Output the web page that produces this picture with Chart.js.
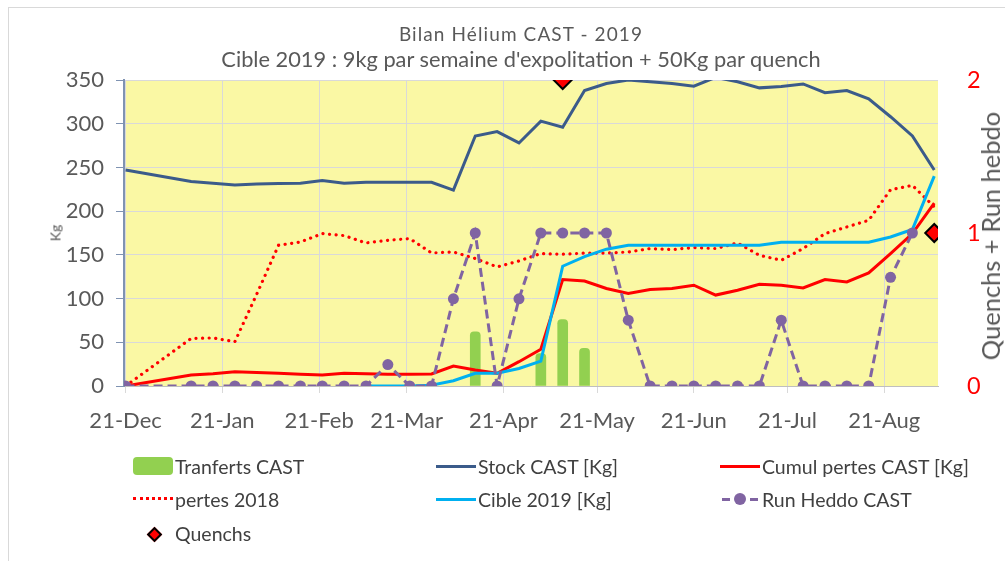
<!DOCTYPE html>
<html><head><meta charset="utf-8">
<script src="https://cdn.jsdelivr.net/npm/chart.js@4.4.1/dist/chart.umd.min.js"></script>
<style>
html,body{margin:0;padding:0;background:#fff;width:1005px;height:561px;overflow:hidden;font-family:Lato,"Open Sans",sans-serif;}
#wrap{position:relative;width:1005px;height:561px;}
#frame{position:absolute;left:8px;top:7px;width:997px;height:554px;border-top:1px solid #d9d9d9;border-left:1px solid #d9d9d9;box-sizing:border-box;}
#c{position:absolute;left:0;top:0;}
.t{position:absolute;white-space:nowrap;color:#595959;transform:translate(-50%,-50%);}
.rot{position:absolute;white-space:nowrap;color:#595959;transform:translate(-50%,-50%) rotate(-90deg);}
.lg{position:absolute;height:30px;display:flex;align-items:center;font-size:19.5px;color:#404040;white-space:nowrap;transform:translateY(-50%);}
.sw{position:relative;width:40px;height:20px;margin-right:2px;flex:none;}
</style>
</head><body>
<div id="wrap">
<div id="frame"></div>
<canvas id="c" width="1005" height="561"></canvas>
<div class="t" id="t1" style="left:521px;top:33px;font-size:19px;letter-spacing:1.1px;"></div>
<div class="t" id="t2" style="left:521px;top:58px;font-size:21.8px;"></div>
<div class="rot" id="ylab" style="left:55px;top:233px;font-size:14px;"></div>
<div class="rot" id="y1lab" style="left:990px;top:236px;font-size:25.5px;"></div>
<div id="legend"></div>
</div>
<script>
// ---- data ----
const titleText = 'Bilan Hélium CAST - 2019';
const subtitleText = "Cible 2019 : 9kg par semaine d'expolitation + 50Kg par quench";
const yTitle = 'Kg';
const y1Title = 'Quenchs + Run hebdo';
const seriesNames = ['Tranferts CAST','Stock CAST [Kg]','Cumul pertes CAST [Kg]','pertes 2018','Cible 2019 [Kg]','Run Heddo CAST','Quenchs'];

const weeks = ['2018-12-21','2019-01-11','2019-01-18','2019-01-25','2019-02-01','2019-02-08','2019-02-15','2019-02-22',
 '2019-03-01','2019-03-08','2019-03-15','2019-03-22','2019-03-29','2019-04-05','2019-04-12','2019-04-19','2019-04-26',
 '2019-05-03','2019-05-10','2019-05-17','2019-05-24','2019-05-31','2019-06-07','2019-06-14','2019-06-21','2019-06-28',
 '2019-07-05','2019-07-12','2019-07-19','2019-07-26','2019-08-02','2019-08-09','2019-08-16','2019-08-23','2019-08-30','2019-09-06'];

const transferts = [null,null,null,null,null,null,null,null,null,null,null,null,null,null,62,null,null,37,76,43,
 null,null,null,null,null,null,null,null,null,null,null,null,null,null,null,null];
const stock = [247,234,232,230,231,231.5,232,235,232,233,233,233,233,224,286,291,278,303,296,338,346,350,348,346,343,353,
 348,341,342.5,345.5,335.5,338,328.5,308,286,247];
const cumulPertes = [0,12.6,14,16.4,15.5,14.5,13.5,12.6,14.5,14,13.5,13.5,13.7,22.8,18.3,14.5,27.8,42,121.8,120,111.5,105.8,
 110.4,111.5,115.3,104,109.6,116.4,115.3,112.2,121.8,119.1,129.4,151.5,174.3,209.3];
const pertes2018 = [0,54.4,55,50.6,105,161,164.7,174.3,172,163.6,166.7,168.6,152.2,153.3,145.8,136.2,143,151.5,150.7,152,152,
 153.3,157.2,156,158.3,157.2,163.6,149.5,143.8,157.2,174.3,181.9,189.5,224.5,229.5,205];
const cible2019 = [null,null,null,null,null,null,null,null,null,0,0,0,1,6,14.5,14.5,20,28.5,137,148,156.5,161,161,161,161,161,
 161,161,164.5,164.5,164.5,164.5,164.5,170.5,179,240];
const runHeddo = [0,0,0,0,0,0,0,0,0,0,0.14,0,0,0.57,1,0,0.57,1,1,1,1,0.43,0,0,0,0,0,0,0.43,0,0,0,0,0.71,1,null];
const quenchs = [null,null,null,null,null,null,null,null,null,null,null,null,null,null,null,null,null,null,2,null,
 null,null,null,null,null,null,null,null,null,null,null,null,null,null,null,1];

const tickDates = ['2018-12-21','2019-01-21','2019-02-21','2019-03-21','2019-04-21','2019-05-21','2019-06-21','2019-07-21','2019-08-21'];
const tickLabels = ['21-Dec','21-Jan','21-Feb','21-Mar','21-Apr','21-May','21-Jun','21-Jul','21-Aug'];
const yTicks = [0,50,100,150,200,250,300,350];
const y1Ticks = [0,1,2];

// ---- helpers ----
const base = Date.UTC(2018,11,21);
const dayOf = s => (Date.parse(s + 'T00:00:00Z') - base) / 86400000;
const xs = weeks.map(dayOf);
const pts = arr => arr.map((v,i) => ({x: xs[i], y: v}));

const C = {
  bar:'#92D050', stock:'#3B5B8A', cumul:'#FF0000', p2018:'#FF0000', cible:'#00B0F0', run:'#8064A2', quench:'#FF0000'
};

document.getElementById('t1').textContent = titleText;
document.getElementById('t2').textContent = subtitleText;
document.getElementById('ylab').textContent = yTitle;
document.getElementById('y1lab').textContent = y1Title;

const plotBg = {
  id:'plotBg',
  beforeDraw(chart){
    const {ctx, chartArea:a} = chart;
    ctx.save(); ctx.fillStyle = '#FAF8A4';
    ctx.fillRect(a.left, a.top, a.right-a.left, a.bottom-a.top);
    ctx.restore();
  }
};

const font = {family:'Lato, "Open Sans", sans-serif'};

new Chart(document.getElementById('c'), {
  type:'line',
  data:{
    datasets:[
      {type:'bar', label:seriesNames[0], data:pts(transferts), backgroundColor:C.bar, barThickness:10,
       borderRadius:{topLeft:4,topRight:4}, borderSkipped:'bottom', yAxisID:'y', order:10},
      {label:seriesNames[1], data:pts(stock), borderColor:C.stock, borderWidth:3, pointRadius:0, tension:0, yAxisID:'y', order:6},
      {label:seriesNames[2], data:pts(cumulPertes), borderColor:C.cumul, borderWidth:3, pointRadius:0, tension:0, yAxisID:'y', order:5},
      {label:seriesNames[3], data:pts(pertes2018), borderColor:C.p2018, borderWidth:3.2, borderDash:[0.1,6.5], borderCapStyle:'round',
       pointRadius:0, tension:0, yAxisID:'y', order:4},
      {label:seriesNames[4], data:pts(cible2019), borderColor:C.cible, borderWidth:3, pointRadius:0, tension:0, yAxisID:'y', order:3},
      {label:seriesNames[5], data:pts(runHeddo), borderColor:C.run, borderWidth:3, borderDash:[9,5], pointRadius:5.5,
       pointBackgroundColor:C.run, pointBorderColor:C.run, pointBorderWidth:0, tension:0, yAxisID:'y1', order:2},
      {label:seriesNames[6], data:pts(quenchs), showLine:false, pointStyle:'rectRot', pointRadius:9, pointBackgroundColor:C.quench,
       pointBorderColor:'#000', pointBorderWidth:2, yAxisID:'y1', order:1}
    ]
  },
  options:{
    responsive:false, animation:false, devicePixelRatio:1,
    layout:{padding:{top:80,bottom:125,left:0,right:0}},
    plugins:{legend:{display:false}, tooltip:{enabled:false}, title:{display:false}},
    scales:{
      x:{type:'linear', min:-0.5, max:260.2, offset:false,
        afterBuildTicks: s => { s.ticks = tickDates.map(d => ({value: dayOf(d)})); },
        afterFit: s => { s.height = 50; },
        ticks:{autoSkip:false, maxRotation:0, padding:15, color:'#595959', font:{...font, size:22},
          callback:(v,i) => tickLabels[i]},
        grid:{offset:false, color:'#D9D9D9', lineWidth:1, tickLength:7, tickColor:'#D9D9D9'},
        border:{color:'#BFBFBF', width:1}
      },
      y:{type:'linear', position:'left', min:0, max:350,
        afterBuildTicks: s => { s.ticks = yTicks.map(v => ({value:v})); },
        afterFit: s => { s.width = 124; },
        ticks:{padding:12, color:'#595959', font:{...font, size:22}},
        grid:{color:'#D9D9D9', lineWidth:1, tickLength:8, tickColor:'#7F93B2'},
        border:{color:'#7F93B2', width:2}
      },
      y1:{type:'linear', position:'right', min:0, max:2,
        afterBuildTicks: s => { s.ticks = y1Ticks.map(v => ({value:v})); },
        afterFit: s => { s.width = 67; },
        ticks:{padding:21, color:'#FF0000', font:{...font, size:23.5}},
        grid:{display:false, drawOnChartArea:false},
        border:{display:false}
      }
    }
  },
  plugins:[plotBg]
});

// ---- HTML legend ----
const lg = document.getElementById('legend');
const colX = [133, 436, 720];
const rowY = [466, 499, 533];
const layout = [[0,0],[1,0],[2,0],[0,1],[1,1],[2,1],[0,2]];
const swatch = (k) => {
  const d = document.createElement('div'); d.className = 'sw';
  const add = (css) => { const e = document.createElement('div'); e.style.cssText = 'position:absolute;' + css; d.appendChild(e); };
  if (k === 0) add('left:0;top:1px;width:40px;height:18px;background:'+C.bar+';border-radius:4px;');
  else if (k === 1) add('left:0;top:8.5px;width:40px;height:3px;background:'+C.stock+';');
  else if (k === 2) add('left:0;top:8.5px;width:40px;height:3px;background:'+C.cumul+';');
  else if (k === 3) add('left:0;top:8px;width:40px;height:0;border-top:3px dotted '+C.p2018+';');
  else if (k === 4) add('left:0;top:8.5px;width:40px;height:3px;background:'+C.cible+';');
  else if (k === 5) { add('left:2px;top:8.5px;width:8px;height:3px;background:'+C.run+';');
    add('left:30px;top:8.5px;width:8px;height:3px;background:'+C.run+';');
    add('left:14px;top:4px;width:12px;height:12px;border-radius:50%;background:'+C.run+';'); }
  else if (k === 6) add('left:16px;top:5.5px;width:7px;height:7px;background:'+C.quench+';border:2px solid #000;transform:rotate(45deg);');
  return d;
};
seriesNames.forEach((name,k) => {
  const it = document.createElement('div'); it.className = 'lg';
  it.style.left = colX[layout[k][0]] + 'px'; it.style.top = rowY[layout[k][1]] + 'px';
  it.appendChild(swatch(k));
  const tx = document.createElement('span'); tx.textContent = name; it.appendChild(tx);
  lg.appendChild(it);
});
</script>
</body></html>
